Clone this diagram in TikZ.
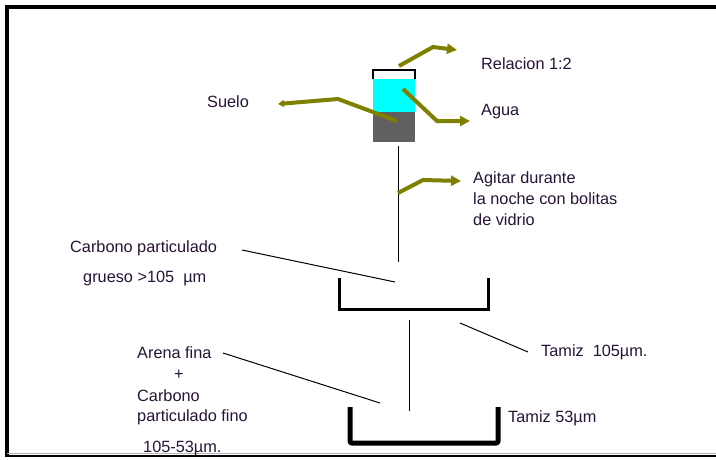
\documentclass[tikz,border=0pt]{standalone}
\usepackage{fontspec}
\setmainfont{Liberation Sans}
\usetikzlibrary{arrows.meta}
\definecolor{olivearrow}{RGB}{128,128,0}
\definecolor{txt}{RGB}{40,20,55}
\definecolor{water}{RGB}{0,255,255}
\definecolor{soil}{RGB}{96,96,96}
\tikzset{
  lbl/.style={anchor=west,inner sep=0pt,text=txt,font=\fontsize{16.3}{18}\selectfont},
  oarrow/.style={draw=olivearrow,line width=4pt,line join=miter,-{Triangle[length=10pt,width=10pt]}},
  thin/.style={draw=black,line width=1pt},
  sieve/.style={draw=black,line width=3pt},
  sievethick/.style={draw=black,line width=5pt,rounded corners=2pt},
}
\begin{document}
\begin{tikzpicture}[x=1pt,y=-1pt]
\useasboundingbox (0,0) rectangle (716,459);
\fill[white] (0,0) rectangle (716,459);
% frame
\draw[line width=4pt] (716,7) -- (7,7) -- (7,457);
\draw[line width=2pt] (7,456) -- (716,456);
\draw[line width=1pt,gray!60] (7,453.5) -- (716,453.5);
% beaker
\fill[soil] (373,112) rectangle (415,142);
\fill[water] (373,79) rectangle (415,112);
\draw[line width=1.5pt] (373,79) -- (373,70) -- (415,70) -- (415,79);
% vertical lines
\coordinate (b1top) at (398,146);
\coordinate (b1bot) at (398,262);
\draw[thin] (b1top) -- (b1bot);
\coordinate (b2top) at (409,320);
\coordinate (b2bot) at (409,411);
\draw[thin] (b2top) -- (b2bot);
% sieves
\draw[sieve] (339,278) -- (339,309) -- (488,309) -- (488,278);
\draw[sievethick] (350,407) -- (350,443) -- (498,443) -- (498,407);
% labels
\node[lbl] (rel) at (481,64) {Relacion 1:2};
\node[lbl] (agua) at (481,112) {Agua};
\node[lbl] (suelo) at (207,102) {Suelo};
\node[lbl,align=left,anchor=north west,font=\fontsize{16.3}{21}\selectfont] (agit) at (473,171) {Agitar durante\\la noche con bolitas\\de vidrio};
\node[lbl] (cp1) at (70,248) {Carbono particulado};
\node[lbl] (cp2) at (83,278) {grueso >105\ \ µm};
\node[lbl] (t105) at (541,352) {Tamiz\ \ 105µm.};
\node[lbl] (af1) at (137,353) {Arena fina};
\node[lbl] (af2) at (174,375) {+};
\node[lbl] (af3) at (137,396) {Carbono};
\node[lbl] (af4) at (137,417) {particulado fino};
\node[lbl] (af5) at (143,448) {105-53µm.};
\node[lbl] (t53) at (508,418) {Tamiz 53µm};
% olive arrows
\coordinate (relS) at (399,66);
\coordinate (relE) at (457,50);
\draw[oarrow] (relS) -- (433,47) -- (relE);
\coordinate (sueS) at (397,121);
\coordinate (sueE) at (278,104);
\draw[oarrow,-{Triangle[length=6pt,width=7pt]}] (sueS) -- (338,99) -- (sueE);
\coordinate (agS) at (403,89);
\coordinate (agE) at (470,121);
\draw[oarrow] (agS) -- (437,121) -- (agE);
\coordinate (agiS) at (398,193);
\coordinate (agiE) at (461,181);
\draw[oarrow] (agiS) -- (423,180) -- (agiE);
% thin leader lines
\coordinate (l1a) at (242,250);
\coordinate (l1b) at (395,282);
\draw[thin] (l1a) -- (l1b);
\coordinate (l2a) at (460,323);
\coordinate (l2b) at (528,352);
\draw[thin] (l2a) -- (l2b);
\coordinate (l3a) at (223,353);
\coordinate (l3b) at (380,403);
\draw[thin] (l3a) -- (l3b);
\end{tikzpicture}
\end{document}
